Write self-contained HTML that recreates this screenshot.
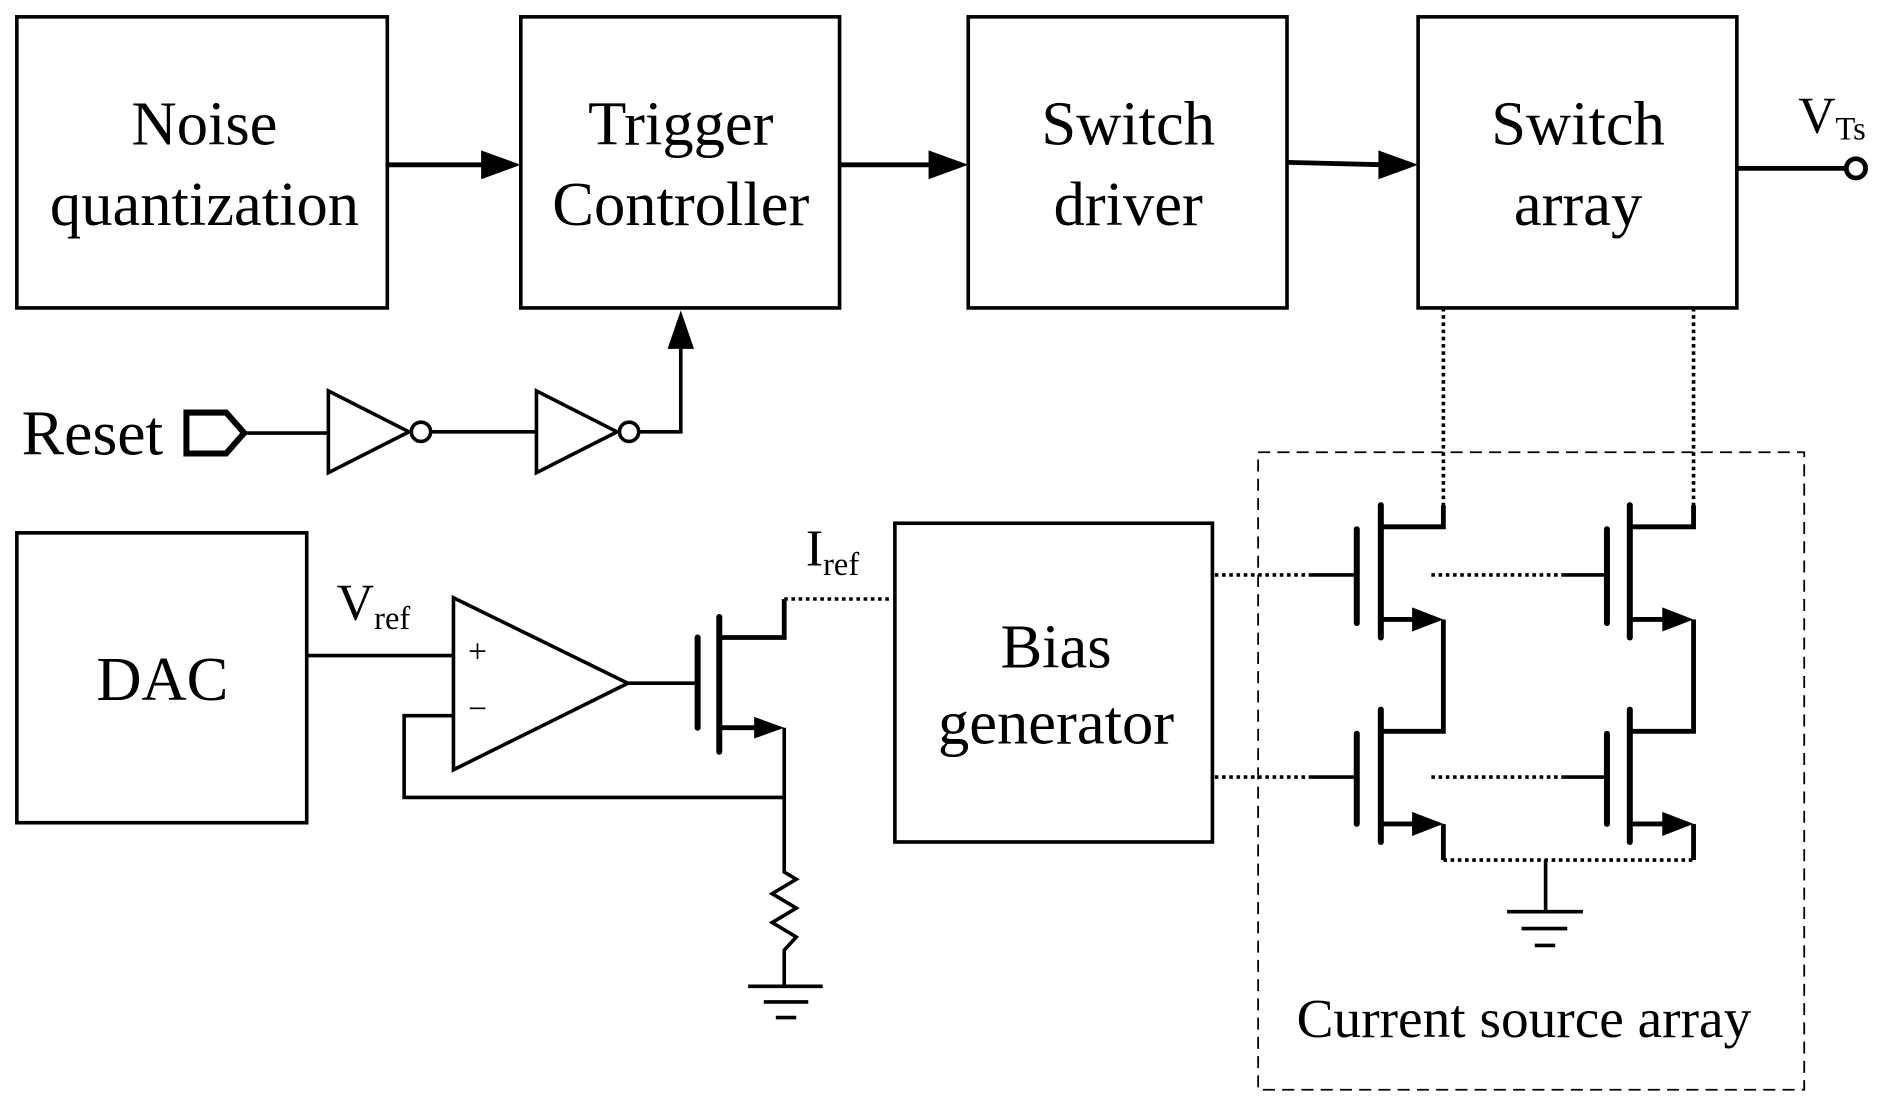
<!DOCTYPE html>
<html><head><style>html,body{margin:0;padding:0;background:#fff}svg{display:block}</style></head>
<body>
<svg width="1886" height="1109" viewBox="0 0 1568 922" xmlns="http://www.w3.org/2000/svg" font-family="'Liberation Serif', serif" fill="none" stroke="#000" stroke-width="3">
<g stroke-width="3">
<rect x="14" y="14" width="308" height="242"/>
<rect x="433" y="14" width="265" height="242"/>
<rect x="805" y="14" width="265" height="242"/>
<rect x="1179" y="14" width="265" height="242"/>
<rect x="14" y="443" width="241" height="241"/>
<rect x="744" y="435" width="264" height="265"/>
</g>
<g fill="#000" stroke="none" font-size="52" text-anchor="middle">
<text x="170" y="120">Noise</text><text x="170" y="187">quantization</text>
<text x="566" y="120">Trigger</text><text x="566" y="187">Controller</text>
<text x="938" y="120">Switch</text><text x="938" y="187">driver</text>
<text x="1312" y="120">Switch</text><text x="1312" y="187">array</text>
<text x="135" y="582">DAC</text>
<text x="878" y="555">Bias</text><text x="878" y="618">generator</text>
<text x="18" y="378" text-anchor="start" font-size="53">Reset</text>
<text x="1267" y="862" font-size="46">Current source array</text>
<text x="1495" y="110" font-size="43" text-anchor="start">V<tspan font-size="27" dy="6">Ts</tspan></text>
<text x="280" y="515" font-size="43" text-anchor="start">V<tspan font-size="27" dy="8">ref</tspan></text>
<text x="670" y="470" font-size="43" text-anchor="start">I<tspan font-size="27" dy="8">ref</tspan></text>
<text x="397" y="551" font-size="28">+</text>
<text x="397" y="598" font-size="28">−</text>
</g>
<g stroke-width="4">
<line x1="322" y1="137" x2="405" y2="137"/>
<line x1="698" y1="137" x2="778" y2="137"/>
<line x1="1070" y1="135" x2="1152" y2="137"/>
<line x1="1444" y1="140" x2="1535" y2="140"/>
</g>
<g fill="#000" stroke="none">
<polygon points="433,137 400,125 400,149"/>
<polygon points="805,137 772,125 772,149"/>
<polygon points="1179,137 1146,125 1146,149"/>
<polygon points="566,258 555,290 577,290"/>
</g>
<circle cx="1543" cy="140" r="8" stroke-width="4"/>
<polygon points="155,343 188,343 203,360 188,377 155,377" stroke-width="5"/>
<line x1="203" y1="360" x2="273" y2="360"/>
<polygon points="273,325 273,393 340,359"/>
<circle cx="350" cy="359" r="8"/>
<line x1="358" y1="359" x2="446" y2="359"/>
<polygon points="446,325 446,393 513,359"/>
<circle cx="523" cy="359" r="8"/>
<polyline points="531,359 566,359 566,286"/>
<line x1="255" y1="545" x2="377" y2="545"/>
<polygon points="377,497 377,640 522,568"/>
<line x1="522" y1="568" x2="580" y2="568"/>
<polyline points="377,595 336,595 336,663 652,663"/>
<g stroke-width="5" stroke-linecap="round">
<line x1="580" y1="530" x2="580" y2="605"/>
<line x1="598" y1="513" x2="598" y2="625"/>
</g>
<polyline points="598,530 652,530 652,498" stroke-width="4"/>
<line x1="652" y1="498" x2="740" y2="498" stroke-dasharray="3,3"/>
<line x1="598" y1="605" x2="630" y2="605" stroke-width="4"/>
<polygon points="652,605 627,596 627,614" fill="#000" stroke="none"/>
<polyline points="652,605 652,725 662,731 642,743 662,755 642,767 662,779 652,790 652,820"/>
<line x1="622" y1="820" x2="684" y2="820"/>
<line x1="635" y1="833" x2="672" y2="833"/>
<line x1="645" y1="846" x2="662" y2="846"/>
<rect x="1046" y="376" width="454" height="530" stroke-width="1.5" stroke-dasharray="10,6"/>
<g stroke-dasharray="3,3" stroke-width="3">
<line x1="1200" y1="256" x2="1200" y2="420"/>
<line x1="1408" y1="256" x2="1408" y2="420"/>
<line x1="1010" y1="478" x2="1090" y2="478"/>
<line x1="1010" y1="646" x2="1090" y2="646"/>
<line x1="1190" y1="478" x2="1300" y2="478"/>
<line x1="1190" y1="646" x2="1300" y2="646"/>
<line x1="1200" y1="715" x2="1408" y2="715"/>
</g>
<g stroke-width="3">
<line x1="1090" y1="478" x2="1128" y2="478"/>
<line x1="1090" y1="646" x2="1128" y2="646"/>
<line x1="1300" y1="478" x2="1336" y2="478"/>
<line x1="1300" y1="646" x2="1336" y2="646"/>
</g>
<g stroke-width="5" stroke-linecap="round">
<line x1="1128" y1="440" x2="1128" y2="518"/><line x1="1148" y1="420" x2="1148" y2="530"/>
<line x1="1128" y1="610" x2="1128" y2="685"/><line x1="1148" y1="590" x2="1148" y2="700"/>
<line x1="1336" y1="440" x2="1336" y2="518"/><line x1="1355" y1="420" x2="1355" y2="530"/>
<line x1="1336" y1="610" x2="1336" y2="685"/><line x1="1355" y1="590" x2="1355" y2="700"/>
</g>
<g stroke-width="4">
<polyline points="1148,438 1200,438 1200,420"/>
<polyline points="1355,438 1408,438 1408,420"/>
<polyline points="1200,515 1200,608 1148,608"/>
<polyline points="1408,515 1408,608 1355,608"/>
<line x1="1200" y1="685" x2="1200" y2="715"/>
<line x1="1408" y1="685" x2="1408" y2="715"/>
<line x1="1148" y1="515" x2="1178" y2="515"/><line x1="1148" y1="685" x2="1178" y2="685"/>
<line x1="1355" y1="515" x2="1386" y2="515"/><line x1="1355" y1="685" x2="1386" y2="685"/>
</g>
<g fill="#000" stroke="none">
<polygon points="1200,515 1174,505 1174,525"/>
<polygon points="1200,685 1174,675 1174,695"/>
<polygon points="1408,515 1382,505 1382,525"/>
<polygon points="1408,685 1382,675 1382,695"/>
</g>
<line x1="1285" y1="715" x2="1285" y2="758"/>
<line x1="1253" y1="758" x2="1316" y2="758"/>
<line x1="1265" y1="772" x2="1303" y2="772"/>
<line x1="1276" y1="786" x2="1293" y2="786"/>
</svg>
</body></html>
